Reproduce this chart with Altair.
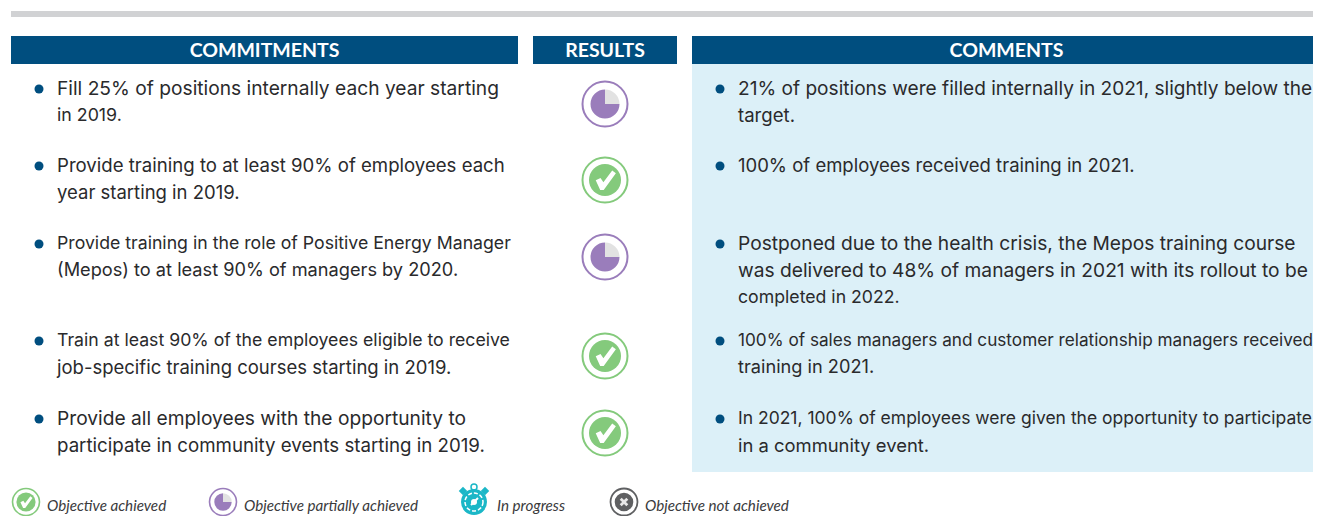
import altair as alt
import pandas as pd

# ---------- content ----------
HEADERS = ["COMMITMENTS", "RESULTS", "COMMENTS"]
COMMITMENTS = [
    ["Fill 25% of positions internally each year starting", "in 2019."],
    ["Provide training to at least 90% of employees each", "year starting in 2019."],
    ["Provide training in the role of Positive Energy Manager", "(Mepos) to at least 90% of managers by 2020."],
    ["Train at least 90% of the employees eligible to receive", "job-specific training courses starting in 2019."],
    ["Provide all employees with the opportunity to", "participate in community events starting in 2019."],
]
COMMENTS = [
    ["21% of positions were filled internally in 2021, slightly below the", "target."],
    ["100% of employees received training in 2021."],
    ["Postponed due to the health crisis, the Mepos training course",
     "was delivered to 48% of managers in 2021 with its rollout to be",
     "completed in 2022."],
    ["100% of sales managers and customer relationship managers received", "training in 2021."],
    ["In 2021, 100% of employees were given the opportunity to participate", "in a community event."],
]
RESULTS = ["partial", "achieved", "partial", "achieved", "achieved"]
LEGEND = [("achieved", "Objective achieved"), ("partial", "Objective partially achieved"),
          ("progress", "In progress"), ("failed", "Objective not achieved")]

# ---------- layout (reference pixel space) ----------
W, H = 1305, 508
X = alt.Scale(domain=[8, 8 + W], range=[0, W], nice=False, zero=False)
Y = alt.Scale(domain=[8, 8 + H], range=[0, H], nice=False, zero=False)
NAVY, PANEL, RULE = "#004e7f", "#dcf0f8", "#d1d2d4"
PURPLE, GREEN, TEAL, GREY = "#9a7dbb", "#84ca7c", "#1bb7c7", "#5f6062"
INK = "#2a2a2c"
BODY = "Inter"
# font size that brings each body line close to its width in the reference
COMMITMENT_SIZES = [[19.2, 17.8], [18.6, 18.5], [17.7, 18.2], [17.7, 18.5], [19.2, 18.7]]
COMMENT_SIZES = [[19.1, 18.6], [18.5], [19.2, 19.2, 17.7], [17.2, 18.2], [17.5, 18.4]]
HEAD_SPANS = [(11, 518), (533, 677), (692, 1321)]
ROW_TOPS = [88, 165, 243, 340, 418]
LINE_GAP = 27
ICON_Y = [104, 180, 257, 356, 433]
ICON_X = 605
LEGEND_ICONS = [(26, 502), (223, 502), (474, 502), (624, 502)]
LEGEND_TEXT_X = [47, 244, 497, 645]
LEGEND_TEXT_Y = 506


def enc_xy():
    return dict(x=alt.X("x:Q", scale=X, axis=None), y=alt.Y("y:Q", scale=Y, axis=None))


def rects(rows, color):
    return alt.Chart(pd.DataFrame(rows)).mark_rect(color=color).encode(
        x=alt.X("x:Q", scale=X, axis=None), x2="x2:Q",
        y=alt.Y("y:Q", scale=Y, axis=None), y2="y2:Q")


layers = [
    rects([dict(x=11, x2=1321, y=11, y2=17)], RULE),
    rects([dict(x=692, x2=1321, y=64, y2=472)], PANEL),
    rects([dict(x=a, x2=b, y=36, y2=64) for a, b in HEAD_SPANS], NAVY),
]

# headers
hdr = pd.DataFrame([dict(x=(a + b) / 2, y=51, t=t) for (a, b), t in zip(HEAD_SPANS, HEADERS)])
layers.append(alt.Chart(hdr).mark_text(font="Lato", fontSize=19.5, fontWeight="bold", color="white",
                                       baseline="middle", align="center").encode(text="t:N", **enc_xy()))

# body text and bullets
lines, bullets = [], []
for col, sizes, bx, tx in ((COMMITMENTS, COMMITMENT_SIZES, 39, 57), (COMMENTS, COMMENT_SIZES, 720, 738)):
    for top, row, row_sizes in zip(ROW_TOPS, col, sizes):
        bullets.append(dict(x=bx, y=top + 1))
        for i, (line, s) in enumerate(zip(row, row_sizes)):
            lines.append(dict(x=tx, y=top + 1 + i * LINE_GAP, t=line, s=s))
layers.append(alt.Chart(pd.DataFrame(bullets)).mark_point(filled=True, opacity=1, color=NAVY, size=81, shape="circle")
              .encode(**enc_xy()))
layers.append(alt.Chart(pd.DataFrame(lines)).mark_text(font=BODY, color=INK, align="left", baseline="middle")
              .encode(text="t:N", size=alt.Size("s:Q", scale=None, legend=None), **enc_xy()))

# icons
CHECK = "M-0.58,0.02 L-0.28,-0.12 L-0.1,0.14 L0.45,-0.6 L0.68,-0.42 L-0.08,0.62 L-0.3,0.62 Z"
CROSS = "M-0.55,-0.3 L-0.3,-0.55 L0,-0.25 L0.3,-0.55 L0.55,-0.3 L0.25,0 L0.55,0.3 L0.3,0.55 L0,0.25 L-0.3,0.55 L-0.55,0.3 L-0.25,0 Z"


def disc(x, y, d, color):
    return alt.Chart(pd.DataFrame([dict(x=x, y=y)])).mark_point(filled=True, opacity=1, color=color, size=d * d, shape="circle").encode(**enc_xy())


def ring(x, y, d, color, sw, dash=None):
    kw = dict(strokeDash=dash) if dash else {}
    return alt.Chart(pd.DataFrame([dict(x=x, y=y)])).mark_point(filled=False, opacity=1, color=color, size=d * d,
                                                                 strokeWidth=sw, shape="circle", **kw).encode(**enc_xy())


def glyph(x, y, d, path, color="white", angle=0):
    return alt.Chart(pd.DataFrame([dict(x=x, y=y)])).mark_point(filled=True, opacity=1, color=color, size=d * d, shape=path, angle=angle).encode(**enc_xy())


def wedge(x, y, r, t0, t1, color):
    return alt.Chart(pd.DataFrame([dict(x=x, y=y)])).mark_arc(radius=r, theta=t0, theta2=t1, color=color).encode(**enc_xy())


def icon(kind, x, y, k=1.0):
    if kind == "achieved":
        return [ring(x, y, 45 * k, GREEN, 2 * max(k, .8)), disc(x, y, 32 * k, GREEN), glyph(x, y, 32 * k, CHECK)]
    if kind == "partial":
        return [ring(x, y, 45 * k, PURPLE, 2 * max(k, .8)),
                wedge(x, y, 14.5 * k, 0, 1.5708, "#e2e2e2"),
                wedge(x, y, 14.5 * k, 1.5708, 6.2832, PURPLE)]
    if kind == "failed":
        return [ring(x, y, 45 * k, GREY, 2.2 * max(k, .8)), disc(x, y, 31 * k, GREY), glyph(x, y, 26 * k, CROSS, "#e8e8e8")]
    # stopwatch
    needle = alt.Chart(pd.DataFrame([dict(x=x - 3, y=y + 3, x2=x + 4, y2=y - 4)])).mark_rule(color="white", strokeWidth=2).encode(
        x=alt.X("x:Q", scale=X, axis=None), x2="x2:Q", y=alt.Y("y:Q", scale=Y, axis=None), y2="y2:Q")
    return [ring(x, y - 15, 6, TEAL, 1.5),
            glyph(x - 11, y - 11, 6, "square", TEAL, 45), glyph(x + 11, y - 11, 6, "square", TEAL, 45),
            disc(x, y, 26, TEAL), ring(x, y, 18, "white", 1.5, [4, 2]),
            disc(x, y, 6, "white"), needle]


for kind, y in zip(RESULTS, ICON_Y):
    layers += icon(kind, ICON_X, y)
for (kind, _), (x, y) in zip(LEGEND, LEGEND_ICONS):
    layers += icon(kind, x, y, 27 / 45)

leg = pd.DataFrame([dict(x=x, y=LEGEND_TEXT_Y, t=t) for (_, t), x in zip(LEGEND, LEGEND_TEXT_X)])
layers.append(alt.Chart(leg).mark_text(font="Lato", fontStyle="italic", fontSize=15.2, color="#3a3a3c",
                                       align="left", baseline="middle").encode(text="t:N", **enc_xy()))

chart = alt.layer(*layers).properties(width=W, height=H, padding=0,
                                      autosize=alt.AutoSizeParams(type="none")).configure_view(stroke=None)
chart.save("out.html", embed_options={"renderer": "svg", "actions": False})
